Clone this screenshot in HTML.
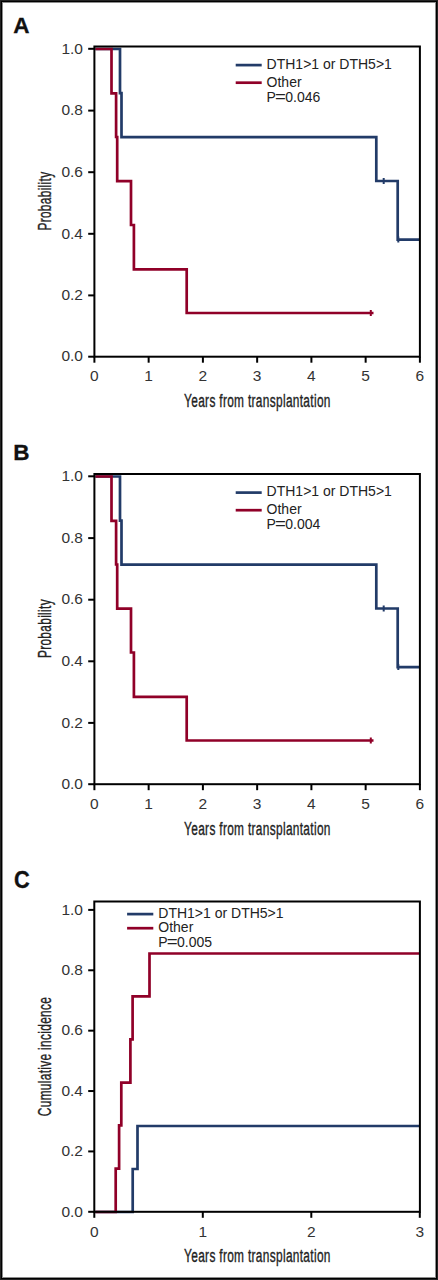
<!DOCTYPE html>
<html><head><meta charset="utf-8"><title>Figure</title>
<style>
html,body{margin:0;padding:0;background:#fff;}
body{width:438px;height:1280px;overflow:hidden;}
svg{display:block;font-family:"Liberation Sans", sans-serif;}
</style></head><body>
<svg width="438" height="1280" viewBox="0 0 438 1280">
<rect x="0" y="0" width="438" height="1280" fill="#fff"/>
<rect x="0" y="0" width="438" height="1280" fill="#222"/>
<rect x="1" y="1" width="436" height="1278" fill="#000"/>
<rect x="2" y="2" width="434" height="1276" fill="#8c8c8c"/>
<rect x="3" y="3" width="432" height="1274" fill="#fff"/>
<text x="13.2" y="32.6" font-size="22.5" font-weight="bold" fill="#111" stroke="#111" stroke-width="0.3">A</text>
<path d="M95.4 49 H120 V93.1 H121.5 V137.2 H376.3 V181 H397.7 V239.6 H419" fill="none" stroke="#223b68" stroke-width="2.7"/>
<path d="M383.7 178 V184" stroke="#223b68" stroke-width="2"/>
<path d="M398.3 236.5 V242.5" stroke="#223b68" stroke-width="2"/>
<path d="M95.4 49 H111.5 V93.3 H116.1 V137 H117.2 V181.2 H131 V225 H133.9 V269.4 H186.7 V313 H373.5" fill="none" stroke="#900028" stroke-width="2.7"/>
<path d="M370.8 310 V316" stroke="#900028" stroke-width="2"/>
<rect x="94.4" y="46.5" width="325.5" height="310.2" fill="none" stroke="#000" stroke-width="2"/>
<path d="M88.2 356.7 H94.4" stroke="#000" stroke-width="2"/>
<text transform="translate(83,361.4) scale(1.07,1)" text-anchor="end" font-size="14.5" fill="#333333">0.0</text>
<path d="M88.2 295.4 H94.4" stroke="#000" stroke-width="2"/>
<text transform="translate(83,300.1) scale(1.07,1)" text-anchor="end" font-size="14.5" fill="#333333">0.2</text>
<path d="M88.2 233.8 H94.4" stroke="#000" stroke-width="2"/>
<text transform="translate(83,238.5) scale(1.07,1)" text-anchor="end" font-size="14.5" fill="#333333">0.4</text>
<path d="M88.2 172.2 H94.4" stroke="#000" stroke-width="2"/>
<text transform="translate(83,176.9) scale(1.07,1)" text-anchor="end" font-size="14.5" fill="#333333">0.6</text>
<path d="M88.2 110.6 H94.4" stroke="#000" stroke-width="2"/>
<text transform="translate(83,115.3) scale(1.07,1)" text-anchor="end" font-size="14.5" fill="#333333">0.8</text>
<path d="M88.2 48.8 H94.4" stroke="#000" stroke-width="2"/>
<text transform="translate(83,53.5) scale(1.07,1)" text-anchor="end" font-size="14.5" fill="#333333">1.0</text>
<path d="M94.4 356.7 V362.7" stroke="#000" stroke-width="2"/>
<text transform="translate(94.4,381.4) scale(1.07,1)" text-anchor="middle" font-size="14.5" fill="#333333">0</text>
<path d="M148.65 356.7 V362.7" stroke="#000" stroke-width="2"/>
<text transform="translate(148.65,381.4) scale(1.07,1)" text-anchor="middle" font-size="14.5" fill="#333333">1</text>
<path d="M202.9 356.7 V362.7" stroke="#000" stroke-width="2"/>
<text transform="translate(202.9,381.4) scale(1.07,1)" text-anchor="middle" font-size="14.5" fill="#333333">2</text>
<path d="M257.15 356.7 V362.7" stroke="#000" stroke-width="2"/>
<text transform="translate(257.15,381.4) scale(1.07,1)" text-anchor="middle" font-size="14.5" fill="#333333">3</text>
<path d="M311.4 356.7 V362.7" stroke="#000" stroke-width="2"/>
<text transform="translate(311.4,381.4) scale(1.07,1)" text-anchor="middle" font-size="14.5" fill="#333333">4</text>
<path d="M365.65 356.7 V362.7" stroke="#000" stroke-width="2"/>
<text transform="translate(365.65,381.4) scale(1.07,1)" text-anchor="middle" font-size="14.5" fill="#333333">5</text>
<path d="M419.9 356.7 V362.7" stroke="#000" stroke-width="2"/>
<text transform="translate(419.9,381.4) scale(1.07,1)" text-anchor="middle" font-size="14.5" fill="#333333">6</text>
<text transform="translate(184.1,407.1) scale(0.676,1)" font-size="17.6" letter-spacing="0.47" fill="#222222" stroke="#222222" stroke-width="0.35">Years from transplantation</text>
<text transform="translate(51,201.1) rotate(-90) scale(0.676,1)" text-anchor="middle" font-size="17.6" letter-spacing="0.47" fill="#222222" stroke="#222222" stroke-width="0.35">Probability</text>
<path d="M235.7 65.1 H261.7" stroke="#223b68" stroke-width="2.7"/>
<path d="M235.7 82.7 H261.7" stroke="#900028" stroke-width="2.7"/>
<text x="266.6" y="68.9" font-size="14" fill="#222222">DTH1&gt;1 or DTH5&gt;1</text>
<text x="266.6" y="86.8" font-size="14" fill="#222222">Other</text>
<text x="266.6" y="101.8" font-size="14" fill="#222222">P</text>
<text transform="translate(275,101.8) scale(1.33,1)" font-size="14" fill="#222222">=</text>
<text x="285.3" y="101.8" font-size="14" fill="#222222">0.046</text>
<text x="13.2" y="460.1" font-size="22.5" font-weight="bold" fill="#111" stroke="#111" stroke-width="0.3">B</text>
<path d="M95.4 476.5 H120 V520.6 H121.5 V564.7 H376.3 V608.5 H397.7 V667.1 H419" fill="none" stroke="#223b68" stroke-width="2.7"/>
<path d="M383.7 605.5 V611.5" stroke="#223b68" stroke-width="2"/>
<path d="M398.3 664 V670" stroke="#223b68" stroke-width="2"/>
<path d="M95.4 476.5 H111.5 V520.8 H116.1 V564.5 H117.2 V608.7 H131 V652.5 H133.9 V696.9 H186.7 V740.5 H373.5" fill="none" stroke="#900028" stroke-width="2.7"/>
<path d="M370.8 737.5 V743.5" stroke="#900028" stroke-width="2"/>
<rect x="94.4" y="474" width="325.5" height="310.2" fill="none" stroke="#000" stroke-width="2"/>
<path d="M88.2 784.2 H94.4" stroke="#000" stroke-width="2"/>
<text transform="translate(83,788.9) scale(1.07,1)" text-anchor="end" font-size="14.5" fill="#333333">0.0</text>
<path d="M88.2 722.9 H94.4" stroke="#000" stroke-width="2"/>
<text transform="translate(83,727.6) scale(1.07,1)" text-anchor="end" font-size="14.5" fill="#333333">0.2</text>
<path d="M88.2 661.3 H94.4" stroke="#000" stroke-width="2"/>
<text transform="translate(83,666) scale(1.07,1)" text-anchor="end" font-size="14.5" fill="#333333">0.4</text>
<path d="M88.2 599.7 H94.4" stroke="#000" stroke-width="2"/>
<text transform="translate(83,604.4) scale(1.07,1)" text-anchor="end" font-size="14.5" fill="#333333">0.6</text>
<path d="M88.2 538.1 H94.4" stroke="#000" stroke-width="2"/>
<text transform="translate(83,542.8) scale(1.07,1)" text-anchor="end" font-size="14.5" fill="#333333">0.8</text>
<path d="M88.2 476.3 H94.4" stroke="#000" stroke-width="2"/>
<text transform="translate(83,481) scale(1.07,1)" text-anchor="end" font-size="14.5" fill="#333333">1.0</text>
<path d="M94.4 784.2 V790.2" stroke="#000" stroke-width="2"/>
<text transform="translate(94.4,808.9) scale(1.07,1)" text-anchor="middle" font-size="14.5" fill="#333333">0</text>
<path d="M148.65 784.2 V790.2" stroke="#000" stroke-width="2"/>
<text transform="translate(148.65,808.9) scale(1.07,1)" text-anchor="middle" font-size="14.5" fill="#333333">1</text>
<path d="M202.9 784.2 V790.2" stroke="#000" stroke-width="2"/>
<text transform="translate(202.9,808.9) scale(1.07,1)" text-anchor="middle" font-size="14.5" fill="#333333">2</text>
<path d="M257.15 784.2 V790.2" stroke="#000" stroke-width="2"/>
<text transform="translate(257.15,808.9) scale(1.07,1)" text-anchor="middle" font-size="14.5" fill="#333333">3</text>
<path d="M311.4 784.2 V790.2" stroke="#000" stroke-width="2"/>
<text transform="translate(311.4,808.9) scale(1.07,1)" text-anchor="middle" font-size="14.5" fill="#333333">4</text>
<path d="M365.65 784.2 V790.2" stroke="#000" stroke-width="2"/>
<text transform="translate(365.65,808.9) scale(1.07,1)" text-anchor="middle" font-size="14.5" fill="#333333">5</text>
<path d="M419.9 784.2 V790.2" stroke="#000" stroke-width="2"/>
<text transform="translate(419.9,808.9) scale(1.07,1)" text-anchor="middle" font-size="14.5" fill="#333333">6</text>
<text transform="translate(184.1,834.6) scale(0.676,1)" font-size="17.6" letter-spacing="0.47" fill="#222222" stroke="#222222" stroke-width="0.35">Years from transplantation</text>
<text transform="translate(51,628.6) rotate(-90) scale(0.676,1)" text-anchor="middle" font-size="17.6" letter-spacing="0.47" fill="#222222" stroke="#222222" stroke-width="0.35">Probability</text>
<path d="M235.7 492.6 H261.7" stroke="#223b68" stroke-width="2.7"/>
<path d="M235.7 510.2 H261.7" stroke="#900028" stroke-width="2.7"/>
<text x="266.6" y="496.4" font-size="14" fill="#222222">DTH1&gt;1 or DTH5&gt;1</text>
<text x="266.6" y="514.3" font-size="14" fill="#222222">Other</text>
<text x="266.6" y="529.3" font-size="14" fill="#222222">P</text>
<text transform="translate(275,529.3) scale(1.33,1)" font-size="14" fill="#222222">=</text>
<text x="285.3" y="529.3" font-size="14" fill="#222222">0.004</text>
<text transform="translate(14.1,887.9) scale(0.97,1.05)" font-size="22.5" font-weight="bold" fill="#111" stroke="#111" stroke-width="0.3">C</text>
<path d="M95.3 1212 H132.7 V1169 H137.5 V1126 H419" fill="none" stroke="#223b68" stroke-width="2.7"/>
<path d="M95.3 1212 H115.7 V1168.6 H119.1 V1125.3 H121.3 V1082.6 H130.4 V1039.3 H132.6 V996.4 H149.5 V953.5 H419" fill="none" stroke="#900028" stroke-width="2.7"/>
<rect x="94.3" y="901.5" width="325.6" height="310.3" fill="none" stroke="#000" stroke-width="2"/>
<path d="M88.2 1211.8 H94.3" stroke="#000" stroke-width="2"/>
<text transform="translate(83,1216.5) scale(1.07,1)" text-anchor="end" font-size="14.5" fill="#333333">0.0</text>
<path d="M88.2 1151.42 H94.3" stroke="#000" stroke-width="2"/>
<text transform="translate(83,1156.12) scale(1.07,1)" text-anchor="end" font-size="14.5" fill="#333333">0.2</text>
<path d="M88.2 1091.04 H94.3" stroke="#000" stroke-width="2"/>
<text transform="translate(83,1095.74) scale(1.07,1)" text-anchor="end" font-size="14.5" fill="#333333">0.4</text>
<path d="M88.2 1030.66 H94.3" stroke="#000" stroke-width="2"/>
<text transform="translate(83,1035.36) scale(1.07,1)" text-anchor="end" font-size="14.5" fill="#333333">0.6</text>
<path d="M88.2 970.28 H94.3" stroke="#000" stroke-width="2"/>
<text transform="translate(83,974.98) scale(1.07,1)" text-anchor="end" font-size="14.5" fill="#333333">0.8</text>
<path d="M88.2 909.9 H94.3" stroke="#000" stroke-width="2"/>
<text transform="translate(83,914.6) scale(1.07,1)" text-anchor="end" font-size="14.5" fill="#333333">1.0</text>
<path d="M94.3 1211.8 V1217.8" stroke="#000" stroke-width="2"/>
<text transform="translate(94.3,1236.5) scale(1.07,1)" text-anchor="middle" font-size="14.5" fill="#333333">0</text>
<path d="M202.8 1211.8 V1217.8" stroke="#000" stroke-width="2"/>
<text transform="translate(202.8,1236.5) scale(1.07,1)" text-anchor="middle" font-size="14.5" fill="#333333">1</text>
<path d="M311.3 1211.8 V1217.8" stroke="#000" stroke-width="2"/>
<text transform="translate(311.3,1236.5) scale(1.07,1)" text-anchor="middle" font-size="14.5" fill="#333333">2</text>
<path d="M419.8 1211.8 V1217.8" stroke="#000" stroke-width="2"/>
<text transform="translate(419.8,1236.5) scale(1.07,1)" text-anchor="middle" font-size="14.5" fill="#333333">3</text>
<text transform="translate(184.1,1262.3) scale(0.676,1)" font-size="17.6" letter-spacing="0.47" fill="#222222" stroke="#222222" stroke-width="0.35">Years from transplantation</text>
<text transform="translate(50.8,1056.5) rotate(-90) scale(0.676,1)" text-anchor="middle" font-size="17.6" letter-spacing="0.47" fill="#222222" stroke="#222222" stroke-width="0.35">Cumulative incidence</text>
<path d="M127.1 914.1 H153.3" stroke="#223b68" stroke-width="2.7"/>
<path d="M127.1 928.2 H153.3" stroke="#900028" stroke-width="2.7"/>
<text x="158.3" y="917.5" font-size="14" fill="#222222">DTH1&gt;1 or DTH5&gt;1</text>
<text x="158.3" y="931.7" font-size="14" fill="#222222">Other</text>
<text x="158.3" y="947.2" font-size="14" fill="#222222">P</text>
<text transform="translate(166.7,947.2) scale(1.33,1)" font-size="14" fill="#222222">=</text>
<text x="177" y="947.2" font-size="14" fill="#222222">0.005</text>
</svg>
</body></html>
